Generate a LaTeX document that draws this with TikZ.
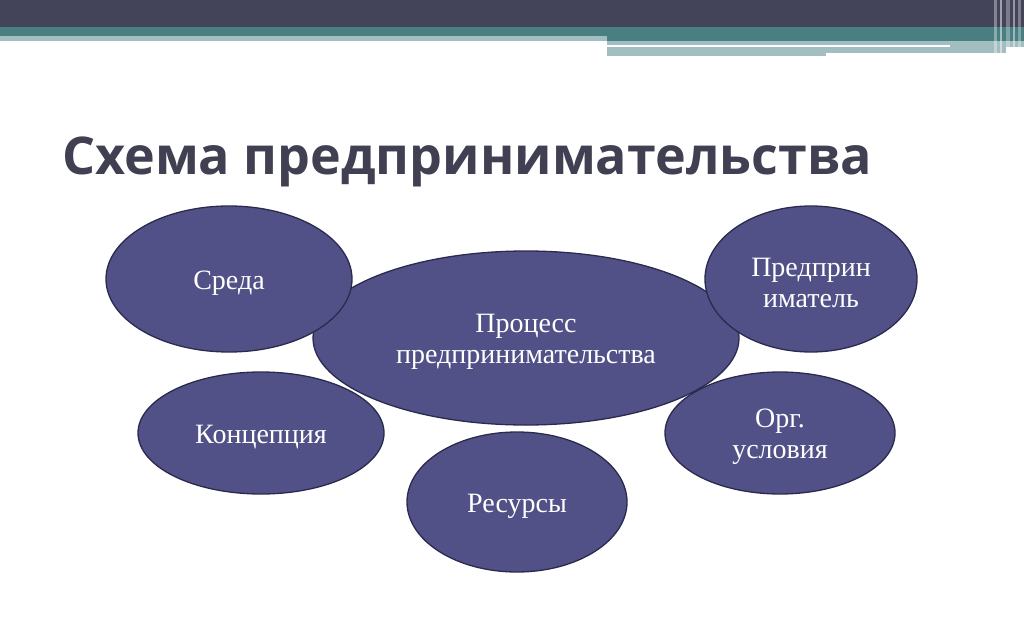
\documentclass[tikz,border=0pt]{standalone}
\usepackage{fontspec}
\setmainfont{Liberation Serif}
\newfontfamily\titlefont{Open Sans}
\usetikzlibrary{shapes.geometric}
\definecolor{barDark}{RGB}{67,67,89}
\definecolor{barTeal}{RGB}{74,127,130}
\definecolor{barLight}{RGB}{163,190,192}
\definecolor{ellFill}{RGB}{82,81,135}
\definecolor{ellLine}{RGB}{42,42,78}
\definecolor{titleCol}{RGB}{64,64,82}
\tikzset{
  bubble/.style={ellipse, draw=ellLine, line width=1.3pt, fill=ellFill, inner sep=0pt},
  btext/.style={text=white, inner sep=0pt, align=center, yshift=-4pt,
    font=\fontsize{28}{31}\selectfont},
}
\begin{document}
\begin{tikzpicture}[x=1pt,y=-1pt]
\useasboundingbox (0,0) rectangle (1024,639);
\fill[white] (0,0) rectangle (1024,639);
% top bars
\fill[barDark] (0,0) rectangle (1024,27);
\fill[barTeal] (0,27) rectangle (1024,36);
\fill[barLight] (0,36) rectangle (607,41);
\fill[barTeal] (607,36) rectangle (1024,41);
\fill[barLight] (607,41) rectangle (1024,47);
\fill[white] (607,45) rectangle (950,47);
\fill[barLight] (607,47) rectangle (826,56);
\fill[barLight] (826,47) rectangle (1006,53);
% right vertical stripes
\fill[white, opacity=0.35] (994,0) rectangle (997,56);
\fill[white, opacity=0.5] (1000,0) rectangle (1002,56);
\fill[white, opacity=0.3] (1006,0) rectangle (1010,56);
\fill[white, opacity=0.45] (1013,0) rectangle (1015,56);
\fill[white, opacity=0.3] (1018,0) rectangle (1021,56);
% title
\node[anchor=base west, inner sep=0pt, text=titleCol, font=\titlefont\bfseries\fontsize{52}{58}\selectfont] (title) at (62,175) {Схема предпринимательства};
% ellipses
\node[bubble, minimum width=426pt, minimum height=174pt] (proc) at (526,338) {};
\node[btext] (proc-t) at (proc.center) {Процесс\\предпринимательства};
\node[bubble, minimum width=246pt, minimum height=146pt] (sreda) at (229,279) {};
\node[btext] (sreda-t) at (sreda.center) {Среда};
\node[bubble, minimum width=212pt, minimum height=146pt] (pred) at (811,279) {};
\node[btext] (pred-t) at (pred.center) {Предприн\\иматель};
\node[bubble, minimum width=246pt, minimum height=122pt] (konc) at (261,433) {};
\node[btext] (konc-t) at (konc.center) {Концепция};
\node[bubble, minimum width=230pt, minimum height=122pt] (org) at (780,433) {};
\node[btext] (org-t) at (org.center) {Орг.\\условия};
\node[bubble, minimum width=220pt, minimum height=140pt] (res) at (517,502) {};
\node[btext] (res-t) at (res.center) {Ресурсы};
\end{tikzpicture}
\end{document}
